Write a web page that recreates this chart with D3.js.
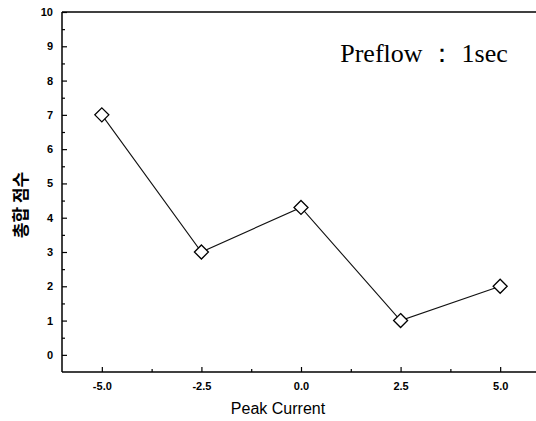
<!DOCTYPE html>
<html>
<head>
<meta charset="utf-8">
<script src="https://cdn.jsdelivr.net/npm/d3@7"></script>
<style>
  body { margin: 0; background: #fff; }
  svg { display: block; }
</style>
</head>
<body>
<div id="chart"></div>
<script>
// chart size
const w = 536;
const h = 421;

// data
const currents = [-5.0, -2.5, 0.0, 2.5, 5.0];
const scores = [7, 3, 4.3, 1, 2];
const xTicks = [-5.0, -2.5, 0.0, 2.5, 5.0];
const yTicks = [0, 1, 2, 3, 4, 5, 6, 7, 8, 9, 10];
const xLabel = 'Peak Current';
const yLabel = '총합 점수';
const note = 'Preflow ： 1sec';

const svg = d3.select('#chart').append('svg')
  .attr('width', w)
  .attr('height', h);

// scales
const xScale = d3.scaleLinear().domain([-6, 6]).range([62, 540]);
const yScale = d3.scaleLinear().domain([-0.5, 10]).range([372, 12]);

// minor ticks (inside)
const xMinor = d3.range(-5.0, 6, 1.25).filter(v => !xTicks.includes(v));
const yMinor = d3.range(0.5, 10, 1);

svg.append('g')
  .attr('transform', 'translate(0,' + yScale(-0.5) + ')')
  .call(d3.axisBottom(xScale).tickValues(xMinor).tickSize(-3).tickFormat(''))
  .call(g => g.select('.domain').remove());
svg.append('g')
  .attr('transform', 'translate(' + xScale(-6) + ',0)')
  .call(d3.axisLeft(yScale).tickValues(yMinor).tickSize(-3).tickFormat(''))
  .call(g => g.select('.domain').remove());

// x axis (hyphen minus like the original)
const xAxis = d3.axisBottom(xScale)
  .tickValues(xTicks)
  .tickSize(-5)
  .tickPadding(10)
  .tickFormat(d => d.toFixed(1));
svg.append('g')
  .attr('id', 'x-axis')
  .attr('transform', 'translate(0,' + yScale(-0.5) + ')')
  .call(xAxis)
  .call(g => g.select('.domain').attr('d', 'M' + xScale(-6) + ',0H' + xScale(6)));

// y axis
const yAxis = d3.axisLeft(yScale)
  .tickValues(yTicks)
  .tickSize(-5)
  .tickPadding(9);
svg.append('g')
  .attr('id', 'y-axis')
  .attr('transform', 'translate(' + xScale(-6) + ',0)')
  .call(yAxis)
  .call(g => g.select('.domain').attr('d', 'M0,' + yScale(-0.5) + 'V' + yScale(10)));

// top border
svg.append('line')
  .attr('x1', xScale(-6)).attr('x2', xScale(6))
  .attr('y1', yScale(10)).attr('y2', yScale(10))
  .attr('stroke', '#000').attr('stroke-width', 1.5);

svg.selectAll('.domain').attr('stroke', '#000').attr('stroke-width', 1.5);
svg.selectAll('.tick line').attr('stroke', '#000').attr('stroke-width', 1.2);
svg.selectAll('.tick text')
  .attr('font-family', 'Arial, Liberation Sans, sans-serif')
  .attr('font-size', 11)
  .attr('font-weight', 'bold')
  .attr('fill', '#000');

// axis titles
svg.append('text')
  .attr('x', 278).attr('y', 414)
  .attr('text-anchor', 'middle')
  .attr('font-family', 'Arial, Liberation Sans, sans-serif')
  .attr('font-size', 16)
  .text(xLabel);
svg.append('text')
  .attr('transform', 'translate(27,' + 205 + ') rotate(-90)')
  .attr('text-anchor', 'middle')
  .attr('font-family', 'Noto Sans CJK KR, sans-serif')
  .attr('font-size', 17)
  .attr('font-weight', 'bold')
  .text(yLabel);

// annotation
svg.append('text')
  .attr('x', 424).attr('y', 62)
  .attr('text-anchor', 'middle')
  .attr('font-family', 'Liberation Serif, Times New Roman, serif')
  .attr('font-size', 26)
  .text(note);

// line
const pts = currents.map((c, i) => [c, scores[i]]);
svg.append('path')
  .datum(pts)
  .attr('fill', 'none')
  .attr('stroke', '#111')
  .attr('stroke-width', 1.1)
  .attr('d', d3.line().x(d => xScale(d[0])).y(d => yScale(d[1])));

// diamond markers
svg.selectAll('.pt').data(pts).enter().append('path')
  .attr('class', 'pt')
  .attr('transform', d => 'translate(' + xScale(d[0]) + ',' + yScale(d[1]) + ')')
  .attr('d', 'M0,-7L7,0L0,7L-7,0Z')
  .attr('fill', '#fff')
  .attr('stroke', '#000')
  .attr('stroke-width', 1.3);
</script>
</body>
</html>
